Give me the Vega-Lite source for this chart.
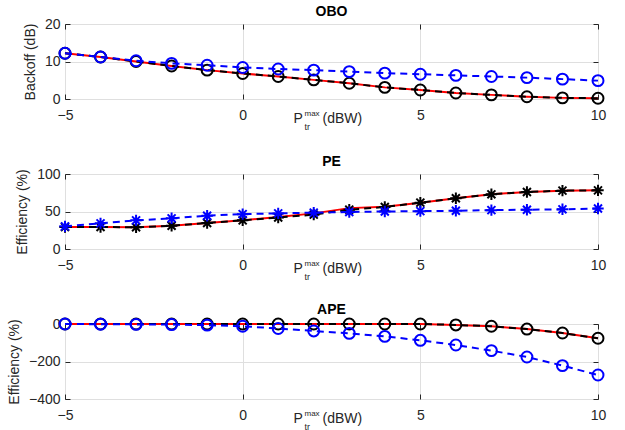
{
  "$schema": "https://vega.github.io/schema/vega-lite/v6.json",
  "padding": {"left": 6, "top": 4, "right": 27, "bottom": 0},
  "spacing": 75,
  "bounds": "flush",
  "datasets": {
    "obo": [
      {"x": -5, "s": "red", "v": 12.2}, {"x": -4, "s": "red", "v": 11.2}, {"x": -3, "s": "red", "v": 10.0}, {"x": -2, "s": "red", "v": 8.8},
      {"x": -1, "s": "red", "v": 7.7}, {"x": 0, "s": "red", "v": 6.8}, {"x": 1, "s": "red", "v": 6.0}, {"x": 2, "s": "red", "v": 5.1},
      {"x": 3, "s": "red", "v": 4.2}, {"x": 4, "s": "red", "v": 3.1}, {"x": 5, "s": "red", "v": 2.4}, {"x": 6, "s": "red", "v": 1.6},
      {"x": 7, "s": "red", "v": 1.1}, {"x": 8, "s": "red", "v": 0.6}, {"x": 9, "s": "red", "v": 0.3}, {"x": 10, "s": "red", "v": 0.2},
      {"x": -5, "s": "black", "v": 12.2}, {"x": -4, "s": "black", "v": 11.2}, {"x": -3, "s": "black", "v": 10.0}, {"x": -2, "s": "black", "v": 8.8},
      {"x": -1, "s": "black", "v": 7.7}, {"x": 0, "s": "black", "v": 6.8}, {"x": 1, "s": "black", "v": 6.0}, {"x": 2, "s": "black", "v": 5.1},
      {"x": 3, "s": "black", "v": 4.2}, {"x": 4, "s": "black", "v": 3.1}, {"x": 5, "s": "black", "v": 2.4}, {"x": 6, "s": "black", "v": 1.6},
      {"x": 7, "s": "black", "v": 1.1}, {"x": 8, "s": "black", "v": 0.6}, {"x": 9, "s": "black", "v": 0.3}, {"x": 10, "s": "black", "v": 0.2},
      {"x": -5, "s": "blue", "v": 12.2}, {"x": -4, "s": "blue", "v": 11.2}, {"x": -3, "s": "blue", "v": 10.2}, {"x": -2, "s": "blue", "v": 9.5},
      {"x": -1, "s": "blue", "v": 9.0}, {"x": 0, "s": "blue", "v": 8.4}, {"x": 1, "s": "blue", "v": 8.0}, {"x": 2, "s": "blue", "v": 7.7},
      {"x": 3, "s": "blue", "v": 7.3}, {"x": 4, "s": "blue", "v": 6.9}, {"x": 5, "s": "blue", "v": 6.6}, {"x": 6, "s": "blue", "v": 6.3},
      {"x": 7, "s": "blue", "v": 6.0}, {"x": 8, "s": "blue", "v": 5.7}, {"x": 9, "s": "blue", "v": 5.3}, {"x": 10, "s": "blue", "v": 4.9}
    ],
    "pe": [
      {"x": -5, "s": "red", "v": 29.3}, {"x": -4, "s": "red", "v": 29.3}, {"x": -3, "s": "red", "v": 29.0}, {"x": -2, "s": "red", "v": 31.0},
      {"x": -1, "s": "red", "v": 34.7}, {"x": 0, "s": "red", "v": 38.2}, {"x": 1, "s": "red", "v": 42.7}, {"x": 2, "s": "red", "v": 47.5},
      {"x": 3, "s": "red", "v": 54.5}, {"x": 4, "s": "red", "v": 56.4}, {"x": 5, "s": "red", "v": 61.8}, {"x": 6, "s": "red", "v": 67.6},
      {"x": 7, "s": "red", "v": 72.9}, {"x": 8, "s": "red", "v": 76.0}, {"x": 9, "s": "red", "v": 77.8}, {"x": 10, "s": "red", "v": 78.2},
      {"x": -5, "s": "black", "v": 29.3}, {"x": -4, "s": "black", "v": 29.3}, {"x": -3, "s": "black", "v": 29.0}, {"x": -2, "s": "black", "v": 31.0},
      {"x": -1, "s": "black", "v": 34.7}, {"x": 0, "s": "black", "v": 38.2}, {"x": 1, "s": "black", "v": 42.0}, {"x": 2, "s": "black", "v": 45.8},
      {"x": 3, "s": "black", "v": 52.5}, {"x": 4, "s": "black", "v": 56.0}, {"x": 5, "s": "black", "v": 61.8}, {"x": 6, "s": "black", "v": 67.6},
      {"x": 7, "s": "black", "v": 72.9}, {"x": 8, "s": "black", "v": 76.0}, {"x": 9, "s": "black", "v": 77.8}, {"x": 10, "s": "black", "v": 78.2},
      {"x": -5, "s": "blue", "v": 30.2}, {"x": -4, "s": "blue", "v": 34.2}, {"x": -3, "s": "blue", "v": 38.2}, {"x": -2, "s": "blue", "v": 40.9},
      {"x": -1, "s": "blue", "v": 44.4}, {"x": 0, "s": "blue", "v": 46.5}, {"x": 1, "s": "blue", "v": 47.5}, {"x": 2, "s": "blue", "v": 48.5},
      {"x": 3, "s": "blue", "v": 49.3}, {"x": 4, "s": "blue", "v": 50.0}, {"x": 5, "s": "blue", "v": 50.5}, {"x": 6, "s": "blue", "v": 51.0},
      {"x": 7, "s": "blue", "v": 51.8}, {"x": 8, "s": "blue", "v": 52.4}, {"x": 9, "s": "blue", "v": 52.9}, {"x": 10, "s": "blue", "v": 54.0}
    ],
    "ape": [
      {"x": -5, "s": "red", "v": 0}, {"x": -4, "s": "red", "v": 0}, {"x": -3, "s": "red", "v": 0}, {"x": -2, "s": "red", "v": 0},
      {"x": -1, "s": "red", "v": 0}, {"x": 0, "s": "red", "v": 0}, {"x": 1, "s": "red", "v": 0}, {"x": 2, "s": "red", "v": 0},
      {"x": 3, "s": "red", "v": 0}, {"x": 4, "s": "red", "v": 0}, {"x": 5, "s": "red", "v": 0}, {"x": 6, "s": "red", "v": -5},
      {"x": 7, "s": "red", "v": -12}, {"x": 8, "s": "red", "v": -27}, {"x": 9, "s": "red", "v": -48}, {"x": 10, "s": "red", "v": -76},
      {"x": -5, "s": "black", "v": 0}, {"x": -4, "s": "black", "v": 0}, {"x": -3, "s": "black", "v": 0}, {"x": -2, "s": "black", "v": 0},
      {"x": -1, "s": "black", "v": 0}, {"x": 0, "s": "black", "v": 0}, {"x": 1, "s": "black", "v": 0}, {"x": 2, "s": "black", "v": 0},
      {"x": 3, "s": "black", "v": 0}, {"x": 4, "s": "black", "v": 0}, {"x": 5, "s": "black", "v": 0}, {"x": 6, "s": "black", "v": -5},
      {"x": 7, "s": "black", "v": -12}, {"x": 8, "s": "black", "v": -27}, {"x": 9, "s": "black", "v": -48}, {"x": 10, "s": "black", "v": -76},
      {"x": -5, "s": "blue", "v": 0}, {"x": -4, "s": "blue", "v": -1}, {"x": -3, "s": "blue", "v": -2}, {"x": -2, "s": "blue", "v": -3},
      {"x": -1, "s": "blue", "v": -6}, {"x": 0, "s": "blue", "v": -12}, {"x": 1, "s": "blue", "v": -24}, {"x": 2, "s": "blue", "v": -37},
      {"x": 3, "s": "blue", "v": -50}, {"x": 4, "s": "blue", "v": -66}, {"x": 5, "s": "blue", "v": -87}, {"x": 6, "s": "blue", "v": -112},
      {"x": 7, "s": "blue", "v": -142}, {"x": 8, "s": "blue", "v": -176}, {"x": 9, "s": "blue", "v": -222}, {"x": 10, "s": "blue", "v": -272}
    ]
  },
  "vconcat": [
    {
      "width": 533, "height": 75,
      "title": "OBO",
      "data": {"name": "obo"},
      "encoding": {
        "y": {"field": "v", "type": "quantitative", "scale": {"domain": [0, 20], "nice": false, "zero": false}, "axis": null}
      },
      "layer": [
        {"transform": [{"filter": "datum.s == 'red'"}], "mark": {"type": "line", "color": "#ff0000", "strokeWidth": 2, "clip": false},
         "encoding": {
           "x": {"field": "x", "type": "quantitative", "scale": {"domain": [-5, 10], "nice": false, "zero": false},
             "axis": {"orient": "bottom", "values": [-5, 0, 5, 10], "labelFlush": false, "title": "P", "titleAlign": "left", "titleBaseline": "alphabetic", "titleX": 228, "titleY": 23}},
           "y": {"field": "v", "type": "quantitative", "scale": {"domain": [0, 20], "nice": false, "zero": false}, "axis": {"orient": "left", "title": "Backoff (dB)", "values": [0, 10, 20]}}}},
        {"transform": [{"filter": "datum.s == 'black'"}], "mark": {"type": "line", "color": "#000000", "strokeWidth": 2, "strokeDash": [7, 5], "clip": false},
         "encoding": {"x": {"field": "x", "type": "quantitative", "scale": {"domain": [-5, 10], "nice": false, "zero": false},
           "axis": {"orient": "bottom", "title": "max", "titleFontSize": 8, "titleAlign": "left", "titleBaseline": "alphabetic", "titleX": 239, "titleY": 16, "labels": false, "ticks": false, "domain": false, "grid": false}}}},
        {"transform": [{"filter": "datum.s == 'black'"}], "mark": {"type": "point", "shape": "circle", "filled": false, "color": "#000000", "size": 120, "strokeWidth": 2, "opacity": 1, "clip": false},
         "encoding": {"x": {"field": "x", "type": "quantitative", "scale": {"domain": [-5, 10], "nice": false, "zero": false},
           "axis": {"orient": "bottom", "title": "(dBW)", "titleAlign": "left", "titleBaseline": "alphabetic", "titleX": 257, "titleY": 23, "labels": false, "ticks": false, "domain": false, "grid": false}}}},
        {"transform": [{"filter": "datum.s == 'blue'"}], "mark": {"type": "line", "color": "#0000ff", "strokeWidth": 2, "strokeDash": [7, 5], "clip": false},
         "encoding": {"x": {"field": "x", "type": "quantitative", "scale": {"domain": [-5, 10], "nice": false, "zero": false},
           "axis": {"orient": "bottom", "title": "tr", "titleFontSize": 9, "titleAlign": "left", "titleBaseline": "alphabetic", "titleX": 239, "titleY": 30, "labels": false, "ticks": false, "domain": false, "grid": false}}}},
        {"transform": [{"filter": "datum.s == 'blue'"}], "mark": {"type": "point", "shape": "circle", "filled": false, "color": "#0000ff", "size": 120, "strokeWidth": 2, "opacity": 1, "clip": false},
         "encoding": {
           "x": {"field": "x", "type": "quantitative", "scale": {"domain": [-5, 10], "nice": false, "zero": false},
             "axis": {"orient": "top", "values": [-5, 0, 5, 10], "title": null, "labels": false, "domain": false, "grid": false}},
           "y": {"field": "v", "type": "quantitative", "scale": {"domain": [0, 20], "nice": false, "zero": false},
             "axis": {"orient": "right", "values": [0, 10, 20], "title": null, "labels": false, "domain": false, "grid": false}}}}
      ],
      "resolve": {"axis": {"x": "independent", "y": "independent"}}
    },
    {
      "width": 533, "height": 75,
      "title": "PE",
      "data": {"name": "pe"},
      "encoding": {
        "y": {"field": "v", "type": "quantitative", "scale": {"domain": [0, 100], "nice": false, "zero": false}, "axis": null}
      },
      "layer": [
        {"transform": [{"filter": "datum.s == 'red'"}], "mark": {"type": "line", "color": "#ff0000", "strokeWidth": 2, "clip": false},
         "encoding": {
           "x": {"field": "x", "type": "quantitative", "scale": {"domain": [-5, 10], "nice": false, "zero": false},
             "axis": {"orient": "bottom", "values": [-5, 0, 5, 10], "labelFlush": false, "title": "P", "titleAlign": "left", "titleBaseline": "alphabetic", "titleX": 228, "titleY": 23}},
           "y": {"field": "v", "type": "quantitative", "scale": {"domain": [0, 100], "nice": false, "zero": false}, "axis": {"orient": "left", "title": "Efficiency (%)", "values": [0, 50, 100]}}}},
        {"transform": [{"filter": "datum.s == 'black'"}], "mark": {"type": "line", "color": "#000000", "strokeWidth": 2, "strokeDash": [7, 5], "clip": false},
         "encoding": {"x": {"field": "x", "type": "quantitative", "scale": {"domain": [-5, 10], "nice": false, "zero": false},
           "axis": {"orient": "bottom", "title": "max", "titleFontSize": 8, "titleAlign": "left", "titleBaseline": "alphabetic", "titleX": 239, "titleY": 16, "labels": false, "ticks": false, "domain": false, "grid": false}}}},
        {"transform": [{"filter": "datum.s == 'black'"}], "mark": {"type": "point", "shape": "M0,-1L0,1M-1,0L1,0M-0.7,-0.7L0.7,0.7M-0.7,0.7L0.7,-0.7", "filled": false, "color": "#000000", "size": 130, "strokeWidth": 2, "opacity": 1, "clip": false},
         "encoding": {"x": {"field": "x", "type": "quantitative", "scale": {"domain": [-5, 10], "nice": false, "zero": false},
           "axis": {"orient": "bottom", "title": "(dBW)", "titleAlign": "left", "titleBaseline": "alphabetic", "titleX": 257, "titleY": 23, "labels": false, "ticks": false, "domain": false, "grid": false}}}},
        {"transform": [{"filter": "datum.s == 'blue'"}], "mark": {"type": "line", "color": "#0000ff", "strokeWidth": 2, "strokeDash": [7, 5], "clip": false},
         "encoding": {"x": {"field": "x", "type": "quantitative", "scale": {"domain": [-5, 10], "nice": false, "zero": false},
           "axis": {"orient": "bottom", "title": "tr", "titleFontSize": 9, "titleAlign": "left", "titleBaseline": "alphabetic", "titleX": 239, "titleY": 30, "labels": false, "ticks": false, "domain": false, "grid": false}}}},
        {"transform": [{"filter": "datum.s == 'blue'"}], "mark": {"type": "point", "shape": "M0,-1L0,1M-1,0L1,0M-0.7,-0.7L0.7,0.7M-0.7,0.7L0.7,-0.7", "filled": false, "color": "#0000ff", "size": 130, "strokeWidth": 2, "opacity": 1, "clip": false},
         "encoding": {
           "x": {"field": "x", "type": "quantitative", "scale": {"domain": [-5, 10], "nice": false, "zero": false},
             "axis": {"orient": "top", "values": [-5, 0, 5, 10], "title": null, "labels": false, "domain": false, "grid": false}},
           "y": {"field": "v", "type": "quantitative", "scale": {"domain": [0, 100], "nice": false, "zero": false},
             "axis": {"orient": "right", "values": [0, 50, 100], "title": null, "labels": false, "domain": false, "grid": false}}}}
      ],
      "resolve": {"axis": {"x": "independent", "y": "independent"}}
    },
    {
      "width": 533, "height": 75,
      "title": "APE",
      "data": {"name": "ape"},
      "encoding": {
        "y": {"field": "v", "type": "quantitative", "scale": {"domain": [-400, 0], "nice": false, "zero": false}, "axis": null}
      },
      "layer": [
        {"transform": [{"filter": "datum.s == 'red'"}], "mark": {"type": "line", "color": "#ff0000", "strokeWidth": 2, "clip": false},
         "encoding": {
           "x": {"field": "x", "type": "quantitative", "scale": {"domain": [-5, 10], "nice": false, "zero": false},
             "axis": {"orient": "bottom", "values": [-5, 0, 5, 10], "labelFlush": false, "title": "P", "titleAlign": "left", "titleBaseline": "alphabetic", "titleX": 228, "titleY": 23}},
           "y": {"field": "v", "type": "quantitative", "scale": {"domain": [-400, 0], "nice": false, "zero": false}, "axis": {"orient": "left", "title": "Efficiency (%)", "values": [-400, -200, 0]}}}},
        {"transform": [{"filter": "datum.s == 'black'"}], "mark": {"type": "line", "color": "#000000", "strokeWidth": 2, "strokeDash": [7, 5], "clip": false},
         "encoding": {"x": {"field": "x", "type": "quantitative", "scale": {"domain": [-5, 10], "nice": false, "zero": false},
           "axis": {"orient": "bottom", "title": "max", "titleFontSize": 8, "titleAlign": "left", "titleBaseline": "alphabetic", "titleX": 239, "titleY": 16, "labels": false, "ticks": false, "domain": false, "grid": false}}}},
        {"transform": [{"filter": "datum.s == 'black'"}], "mark": {"type": "point", "shape": "circle", "filled": false, "color": "#000000", "size": 120, "strokeWidth": 2, "opacity": 1, "clip": false},
         "encoding": {"x": {"field": "x", "type": "quantitative", "scale": {"domain": [-5, 10], "nice": false, "zero": false},
           "axis": {"orient": "bottom", "title": "(dBW)", "titleAlign": "left", "titleBaseline": "alphabetic", "titleX": 257, "titleY": 23, "labels": false, "ticks": false, "domain": false, "grid": false}}}},
        {"transform": [{"filter": "datum.s == 'blue'"}], "mark": {"type": "line", "color": "#0000ff", "strokeWidth": 2, "strokeDash": [7, 5], "clip": false},
         "encoding": {"x": {"field": "x", "type": "quantitative", "scale": {"domain": [-5, 10], "nice": false, "zero": false},
           "axis": {"orient": "bottom", "title": "tr", "titleFontSize": 9, "titleAlign": "left", "titleBaseline": "alphabetic", "titleX": 239, "titleY": 30, "labels": false, "ticks": false, "domain": false, "grid": false}}}},
        {"transform": [{"filter": "datum.s == 'blue'"}], "mark": {"type": "point", "shape": "circle", "filled": false, "color": "#0000ff", "size": 120, "strokeWidth": 2, "opacity": 1, "clip": false},
         "encoding": {
           "x": {"field": "x", "type": "quantitative", "scale": {"domain": [-5, 10], "nice": false, "zero": false},
             "axis": {"orient": "top", "values": [-5, 0, 5, 10], "title": null, "labels": false, "domain": false, "grid": false}},
           "y": {"field": "v", "type": "quantitative", "scale": {"domain": [-400, 0], "nice": false, "zero": false},
             "axis": {"orient": "right", "values": [-400, -200, 0], "title": null, "labels": false, "domain": false, "grid": false}}}}
      ],
      "resolve": {"axis": {"x": "independent", "y": "independent"}}
    }
  ],
  "config": {
    "font": "Liberation Sans",
    "background": "#ffffff",
    "view": {"stroke": "#262626", "strokeWidth": 1},
    "axis": {
      "labelFont": "Liberation Sans", "labelFontSize": 14, "labelColor": "#262626",
      "titleFont": "Liberation Sans", "titleFontSize": 14, "titleFontWeight": "normal", "titleColor": "#262626",
      "gridColor": "#dfdfdf", "gridWidth": 1, "domain": false,
      "tickColor": "#262626", "tickSize": -5, "tickWidth": 1, "labelPadding": 14
    },
    "axisY": {"labelPadding": 10, "titlePadding": 7},
    "title": {"font": "Liberation Sans", "fontSize": 14, "fontWeight": "bold", "color": "#000000", "offset": -2}
  }
}
